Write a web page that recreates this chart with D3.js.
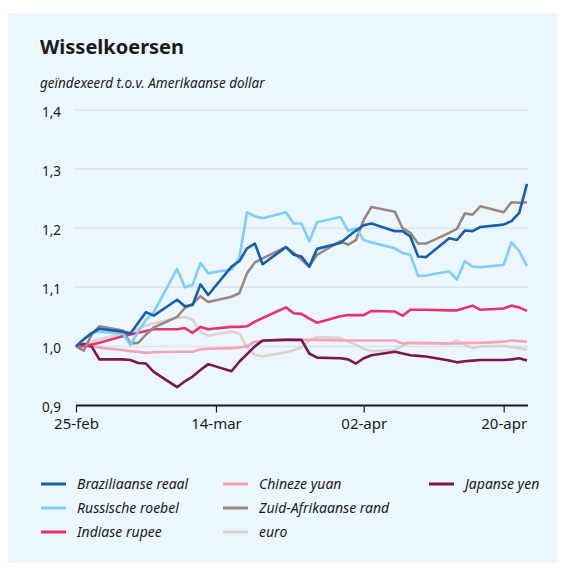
<!DOCTYPE html>
<html>
<head>
<meta charset="utf-8">
<script src="https://cdn.jsdelivr.net/npm/d3@7"></script>
<style>
  body { margin: 0; background: #ffffff; }
  svg text { font-family: "Noto Sans", "Open Sans", sans-serif; fill: #1a1a1a; }
</style>
</head>
<body>
<svg id="chart" width="566" height="568"></svg>
<script>
// handelsdagen
var dates = [
	"2020-02-25", "2020-02-26", "2020-02-27", "2020-02-28",
	"2020-03-02", "2020-03-03", "2020-03-04", "2020-03-05", "2020-03-06",
	"2020-03-09", "2020-03-10", "2020-03-11", "2020-03-12", "2020-03-13",
	"2020-03-16", "2020-03-17", "2020-03-18", "2020-03-19", "2020-03-20",
	"2020-03-23", "2020-03-24", "2020-03-25", "2020-03-26", "2020-03-27",
	"2020-03-30", "2020-03-31", "2020-04-01", "2020-04-02", "2020-04-03",
	"2020-04-06", "2020-04-07", "2020-04-08", "2020-04-09", "2020-04-10",
	"2020-04-13", "2020-04-14", "2020-04-15", "2020-04-16", "2020-04-17",
	"2020-04-20", "2020-04-21", "2020-04-22", "2020-04-23"
];

var brazil = [1.000, 1.012, 1.022, 1.030, 1.025, 1.022, 1.040, 1.058, 1.052,
	1.079, 1.068, 1.070, 1.105, 1.087, 1.135, 1.144, 1.166, 1.174, 1.139,
	1.168, 1.155, 1.152, 1.135, 1.165, 1.175, 1.186, 1.196, 1.205, 1.208,
	1.195, 1.195, 1.186, 1.152, 1.151, 1.183, 1.180, 1.196, 1.195, 1.202,
	1.206, 1.212, 1.226, 1.275];
var russia = [1.000, 1.012, 1.023, 1.025, 1.022, 1.002, 1.025, 1.045, 1.058,
	1.131, 1.100, 1.104, 1.141, 1.124, 1.130, 1.150, 1.227, 1.220, 1.217,
	1.227, 1.208, 1.208, 1.178, 1.210, 1.219, 1.195, 1.200, 1.180, 1.176,
	1.166, 1.158, 1.155, 1.119, 1.120, 1.127, 1.113, 1.144, 1.135, 1.134,
	1.138, 1.176, 1.161, 1.136];
var india = [1.000, 1.001, 1.003, 1.006, 1.017, 1.020, 1.023, 1.026, 1.029,
	1.029, 1.031, 1.023, 1.033, 1.029, 1.033, 1.033, 1.034, 1.042, 1.048,
	1.066, 1.056, 1.055, 1.047, 1.040, 1.051, 1.053, 1.053, 1.053, 1.060,
	1.059, 1.052, 1.062, 1.062, 1.062, 1.061, 1.061, 1.065, 1.069, 1.062,
	1.064, 1.069, 1.066, 1.060];
var china = [1.000, 1.000, 1.000, 0.998, 0.994, 0.992, 0.991, 0.989, 0.990,
	0.991, 0.991, 0.991, 0.995, 0.996, 0.997, 0.998, 1.000, 1.008, 1.009,
	1.012, 1.011, 1.011, 1.011, 1.011, 1.010, 1.010, 1.010, 1.010, 1.010,
	1.010, 1.005, 1.006, 1.006, 1.006, 1.005, 1.005, 1.006, 1.006, 1.006,
	1.008, 1.010, 1.009, 1.008];
var southAfrica = [1.000, 0.993, 1.020, 1.034, 1.027, 1.005, 1.006, 1.020, 1.032,
	1.050, 1.065, 1.072, 1.085, 1.075, 1.084, 1.090, 1.124, 1.142, 1.149,
	1.168, 1.158, 1.147, 1.135, 1.155, 1.178, 1.172, 1.180, 1.214, 1.236,
	1.228, 1.200, 1.192, 1.174, 1.174, 1.192, 1.199, 1.225, 1.223, 1.237,
	1.227, 1.244, 1.243, 1.244];
var euro = [1.000, 1.004, 1.008, 1.012, 1.022, 1.025, 1.030, 1.035, 1.039,
	1.048, 1.050, 1.045, 1.025, 1.018, 1.025, 1.022, 0.998, 0.986, 0.983,
	0.990, 0.994, 0.998, 1.010, 1.016, 1.014, 1.008, 1.003, 0.996, 0.992,
	0.994, 1.001, 1.006, 1.005, 1.005, 1.004, 1.010, 1.003, 0.997, 1.000,
	1.001, 0.999, 0.997, 0.995];
var japan = [1.000, 1.004, 1.000, 0.978, 0.978, 0.977, 0.972, 0.971, 0.957,
	0.931, 0.941, 0.949, 0.960, 0.970, 0.958, 0.974, 0.987, 1.000, 1.010,
	1.011, 1.011, 1.011, 0.988, 0.981, 0.980, 0.978, 0.971, 0.980, 0.985,
	0.991, 0.988, 0.985, 0.984, 0.983, 0.976, 0.973, 0.975, 0.976, 0.977,
	0.977, 0.978, 0.980, 0.976];

var seriesNames = ["Braziliaanse reaal", "Russische roebel", "Indiase rupee",
	"Chineze yuan", "Zuid-Afrikaanse rand", "euro", "Japanse yen"];
var seriesColors = ["#1560a9", "#80cdfb", "#e6336f", "#f5a2b7", "#9c8782", "#dcd2d1", "#7a1652"];
var seriesValues = [brazil, russia, india, china, southAfrica, euro, japan];

var tickDates = ["2020-02-25", "2020-03-14", "2020-04-02", "2020-04-20"];
var tickLabels = ["25-feb", "14-mar", "02-apr", "20-apr"];
var yTicks = [0.9, 1.0, 1.1, 1.2, 1.3, 1.4];

var parse = d3.timeParse("%Y-%m-%d");
var svg = d3.select("#chart");

svg.append("rect")
	.attr("x", 8).attr("y", 13)
	.attr("width", 549).attr("height", 550)
	.attr("fill", "#ecf6fd");

svg.append("text")
	.attr("x", 40).attr("y", 54)
	.style("font-size", "20px").style("font-weight", "bold")
	.text("Wisselkoersen");

svg.append("text")
	.attr("x", 40).attr("y", 88)
	.style("font-size", "13.5px").style("font-style", "italic")
	.text("geïndexeerd t.o.v. Amerikaanse dollar");

var x = d3.scaleTime()
	.domain([parse(dates[0]), parse(dates[dates.length - 1])])
	.range([76, 527]);
var y = d3.scaleLinear().domain([0.9, 1.4]).range([405.5, 110]);

var fmt = function(d) { return d3.format(".1f")(d).replace(".", ","); };

// gridlines
svg.append("g").selectAll("line")
	.data(yTicks.slice(1))
	.enter().append("line")
	.attr("x1", 74).attr("x2", 528)
	.attr("y1", function(d) { return y(d); })
	.attr("y2", function(d) { return y(d); })
	.attr("stroke", "#dde4ea")
	.attr("stroke-width", 1.5);

svg.append("g").selectAll("text")
	.data(yTicks)
	.enter().append("text")
	.attr("x", 42)
	.attr("y", function(d) { return y(d) + 6.5; })
	.style("font-size", "13.5px")
	.text(fmt);

var g_line = svg.append("g").attr("id", "lines");
var line = d3.line()
	.x(function(d) { return x(d.date); })
	.y(function(d) { return y(d.value); });

var drawOrder = [5, 3, 6, 2, 4, 1, 0];
drawOrder.forEach(function(i) {
	var detail = dates.map(function(d, j) {
		return { "date": parse(d), "value": seriesValues[i][j] };
	});
	g_line.append("path")
		.attr("d", line(detail))
		.attr("fill", "none")
		.attr("stroke", seriesColors[i])
		.attr("stroke-width", 2.6)
		.attr("stroke-linejoin", "round");
});

// x-as
var xAxis = d3.axisBottom(x)
	.tickValues(tickDates.map(parse))
	.tickSize(7)
	.tickFormat(function(d, i) { return tickLabels[i]; });

var gx = svg.append("g")
	.attr("transform", "translate(0," + y(0.9) + ")")
	.call(xAxis);
gx.select(".domain").attr("stroke", "#1a1a1a").attr("stroke-width", 2)
	.attr("d", "M76,0H528");
gx.selectAll(".tick line").attr("stroke", "#1a1a1a").attr("stroke-width", 1.2);
gx.selectAll(".tick text")
	.attr("y", 13)
	.style("font-size", "15px")
	.style("font-family", "Noto Sans")
	.attr("fill", "#1a1a1a");

// legenda
var legendX = [41, 223, 429];
var legendY = [484, 508, 532];
var legendPos = [[0, 0], [0, 1], [0, 2], [1, 0], [1, 1], [1, 2], [2, 0]];
var lg = svg.append("g");
seriesNames.forEach(function(name, i) {
	var px = legendX[legendPos[i][0]], py = legendY[legendPos[i][1]];
	lg.append("line")
		.attr("x1", px).attr("x2", px + 25)
		.attr("y1", py).attr("y2", py)
		.attr("stroke", seriesColors[i])
		.attr("stroke-width", 3);
	lg.append("text")
		.attr("x", px + 36).attr("y", py + 5)
		.style("font-size", "14px").style("font-style", "italic")
		.text(name);
});
</script>
</body>
</html>
